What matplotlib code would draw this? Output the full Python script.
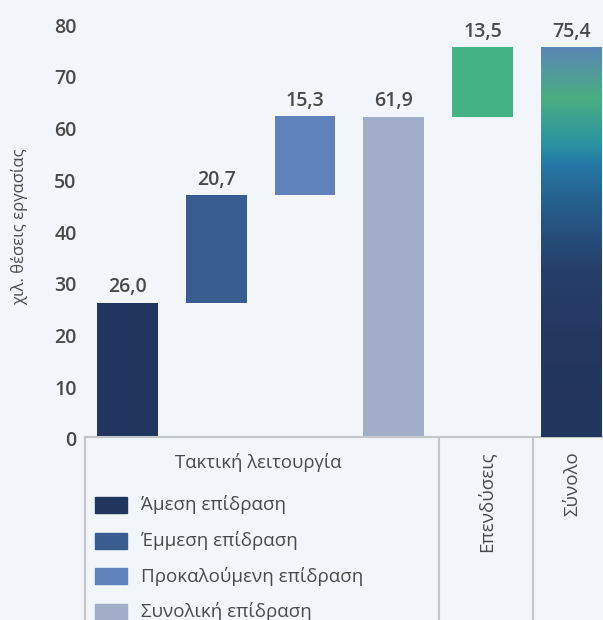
import numpy as np
import matplotlib
matplotlib.use("Agg")
import matplotlib.pyplot as plt
from matplotlib.patches import Rectangle
from matplotlib.colors import LinearSegmentedColormap
from matplotlib.transforms import ScaledTranslation

plt.rcParams['font.family'] = ['Open Sans', 'DejaVu Sans']

# data
values = [26.0, 20.7, 15.3, 61.9, 13.5, 75.4]
kinds = ['step', 'step', 'step', 'total', 'step', 'total']
value_labels = ['26,0', '20,7', '15,3', '61,9', '13,5', '75,4']
colors = ['#21365f', '#3a5d91', '#5e82b9', '#a2adc9', '#46b386', None]
legend_labels = ['Άμεση επίδραση', 'Έμμεση επίδραση', 'Προκαλούμενη επίδραση', 'Συνολική επίδραση']
group_labels = ['Τακτική λειτουργία', 'Επενδύσεις', 'Σύνολο']
yticks = [0, 10, 20, 30, 40, 50, 60, 70, 80]
ylabel = 'χιλ. θέσεις εργασίας'

bg = '#f2f5fa'
txt = '#4a4a4a'
line_c = '#c4c6ca'
fw = 'semibold'

W, H = 603, 620
fig = plt.figure(figsize=(W / 100, H / 100), dpi=100, facecolor=bg)
ax = fig.add_axes([85 / W, (H - 437) / H, 518 / W, 437 / H])
ax.set_facecolor(bg)

# waterfall bottoms
bottoms = []
run = 0.0
for v, k in zip(values, kinds):
    if k == 'total':
        bottoms.append(0.0)
        run = v
    else:
        bottoms.append(run)
        run += v

x = np.arange(len(values))
bw = 0.685
bars = ax.bar(x, values, bottom=bottoms, width=bw,
              color=[c if c else '#21365f' for c in colors], zorder=2)

# gradient on the last bar
grad = LinearSegmentedColormap.from_list('g', [
    (0.0, '#21365f'), (0.27, '#243862'), (0.43, '#263f6a'), (0.58, '#265a88'),
    (0.70, '#2478a6'), (0.75, '#2a92a2'), (0.87, '#4aae82'), (1.0, '#5a86b5')])
last = bars[-1]
gx0 = last.get_x()
gy1 = bottoms[-1] + values[-1]
img = ax.imshow(np.linspace(0, 1, 256).reshape(-1, 1), cmap=grad, origin='lower',
                extent=[gx0, gx0 + bw, bottoms[-1], gy1], aspect='auto', zorder=3)
img.set_clip_path(last)
last.set_facecolor('none')

for xi, b, v, lab in zip(x, bottoms, values, value_labels):
    ax.annotate(lab, (xi, b + v), xytext=(0, 4), textcoords='offset points',
                ha='center', va='bottom', fontsize=14, color=txt, fontweight=fw)

ax.set_xlim(-0.4775, 5.354)
ax.set_ylim(0, 84.5)
ax.set_yticks(yticks)
ax.set_xticks([])
ax.tick_params(axis='y', length=0, pad=6, labelsize=14, labelcolor=txt)
shift = ScaledTranslation(0, -2 / 100, fig.dpi_scale_trans)
for lab in ax.get_yticklabels():
    lab.set_fontweight(fw)
    lab.set_transform(lab.get_transform() + shift)
for s in ['top', 'right', 'left']:
    ax.spines[s].set_visible(False)
ax.spines['bottom'].set_color(line_c)
ax.spines['bottom'].set_linewidth(1.5)

fig.text(20 / W, 1 - 227 / H, ylabel, rotation=90, ha='center', va='center',
         fontsize=12, color=txt)

# bottom table lines
for sep in [85, 439, 533]:
    fig.add_artist(plt.Line2D([sep / W, sep / W], [0, (H - 437) / H],
                              color=line_c, lw=1.5))

fig.text(258 / W, 1 - 462 / H, group_labels[0], ha='center', va='center',
         fontsize=13.3, color=txt)
fig.text(486 / W, 1 - 451 / H, group_labels[1], rotation=90, ha='center', va='top',
         fontsize=13.5, color=txt)
fig.text(572 / W, 1 - 451 / H, group_labels[2], rotation=90, ha='center', va='top',
         fontsize=13.5, color=txt)

# legend
for i, lab in enumerate(legend_labels):
    yc = 505 + i * 35.5
    fig.add_artist(Rectangle((95 / W, 1 - (yc + 8) / H), 32 / W, 16 / H,
                             transform=fig.transFigure, color=colors[i]))
    fig.text(141 / W, 1 - yc / H, lab, ha='left', va='center',
             fontsize=13.5, color=txt)

fig.savefig('out.png', dpi=100, facecolor=bg)
